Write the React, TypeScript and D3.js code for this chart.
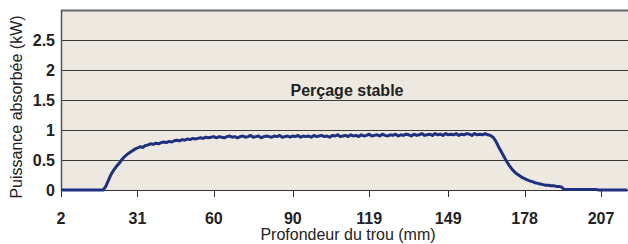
import React, { useEffect, useRef } from "react";
import * as d3 from "d3";

// x axis tick labels (mm) and y axis ticks (kW)
const xTicks = [2, 31, 60, 90, 119, 149, 178, 207];
const yTicks = [0, 0.5, 1, 1.5, 2, 2.5];

// measured power, one sample per mm starting at 2 mm
const depthStart = 2;
const power = [
  0, 0, 0, 0, 0, 0, 0, 0, 0, 0, 0, 0, 0, 0, 0, 0,
  0.0, 0.06, 0.16, 0.26, 0.33, 0.39, 0.44, 0.5, 0.55, 0.59, 0.62, 0.65, 0.68,
  0.7, 0.72, 0.71, 0.74, 0.75, 0.77, 0.76, 0.78, 0.77, 0.79,
  0.8, 0.79, 0.81, 0.8, 0.82, 0.83, 0.82, 0.84, 0.83, 0.85,
  0.84, 0.86, 0.85, 0.86, 0.87, 0.86, 0.88, 0.87, 0.88, 0.89,
  0.87, 0.89, 0.88, 0.87, 0.89, 0.9, 0.88, 0.89, 0.87, 0.89,
  0.9, 0.88, 0.89, 0.91, 0.88, 0.89, 0.9, 0.87, 0.89, 0.9,
  0.89, 0.88, 0.9, 0.89, 0.91, 0.88, 0.89, 0.9, 0.88, 0.9,
  0.89, 0.91, 0.88, 0.9, 0.89, 0.9, 0.88, 0.91, 0.89, 0.9,
  0.91, 0.89, 0.9, 0.88, 0.91, 0.9, 0.92, 0.89, 0.9, 0.91,
  0.89, 0.92, 0.9, 0.91, 0.89, 0.92, 0.9, 0.91, 0.93, 0.9,
  0.91, 0.92, 0.9, 0.93, 0.91, 0.9, 0.92, 0.91, 0.93, 0.9,
  0.92, 0.91, 0.93, 0.92, 0.9, 0.93, 0.91, 0.92, 0.94, 0.91,
  0.92, 0.93, 0.91, 0.94, 0.92, 0.93, 0.91, 0.94, 0.92, 0.93,
  0.92, 0.94, 0.91, 0.93, 0.92, 0.94, 0.93, 0.91, 0.94, 0.92,
  0.93, 0.92, 0.94, 0.92, 0.91, 0.88,
  0.82, 0.73, 0.65, 0.57, 0.49, 0.42, 0.36, 0.31, 0.27, 0.24, 0.21, 0.19, 0.17, 0.15,
  0.14, 0.12, 0.11, 0.1, 0.09, 0.08, 0.08, 0.07, 0.07, 0.06, 0.06, 0.05,
  0.01, 0.01, 0.01, 0.01, 0.01, 0.01, 0.01, 0.01, 0.01, 0.01, 0.01, 0.01, 0.01,
  0, 0, 0, 0, 0, 0, 0, 0, 0, 0, 0, 0,
];

const title = "Perçage stable";
const xTitle = "Profondeur du trou (mm)";
const yTitle = "Puissance absorbée (kW)";

const App = () => {
  const svgRef = useRef<SVGSVGElement>(null);

  useEffect(() => {
    const width = 628;
    const height = 244;
    const left = 61;
    const top = 10;
    const bottom = 190;
    const right = 628;
    const font = "Liberation Sans, Arial, sans-serif";

    const x = d3.scaleLinear().domain([2, 207]).range([left, 601]);
    const y = d3.scaleLinear().domain([0, 3]).range([bottom, top]);

    const svg = d3
      .select(svgRef.current)
      .attr("width", width)
      .attr("height", height)
      .style("font-family", font);
    svg.selectAll("*").remove();

    svg
      .append("rect")
      .attr("x", left)
      .attr("y", top)
      .attr("width", right - left)
      .attr("height", bottom - top)
      .attr("fill", "#ede9e0");

    // gridlines
    svg
      .append("g")
      .selectAll("line")
      .data(yTicks.filter((d) => d > 0))
      .join("line")
      .attr("x1", left)
      .attr("x2", right)
      .attr("y1", (d) => Math.round(y(d)) + 0.5)
      .attr("y2", (d) => Math.round(y(d)) + 0.5)
      .attr("stroke", "#3a3a3a")
      .attr("stroke-width", 1);

    // frame
    svg
      .append("line")
      .attr("x1", left)
      .attr("x2", right)
      .attr("y1", top + 0.5)
      .attr("y2", top + 0.5)
      .attr("stroke", "#6a6a6a")
      .attr("stroke-width", 2);
    svg
      .append("line")
      .attr("x1", left + 0.5)
      .attr("x2", left + 0.5)
      .attr("y1", top)
      .attr("y2", bottom)
      .attr("stroke", "#555")
      .attr("stroke-width", 1.5);
    svg
      .append("line")
      .attr("x1", left)
      .attr("x2", right)
      .attr("y1", bottom + 0.5)
      .attr("y2", bottom + 0.5)
      .attr("stroke", "#333");

    // x ticks
    const xt = svg.append("g").selectAll("g").data(xTicks).join("g");
    xt.append("line")
      .attr("x1", (d) => Math.round(x(d)) + 0.5)
      .attr("x2", (d) => Math.round(x(d)) + 0.5)
      .attr("y1", bottom)
      .attr("y2", bottom + 7)
      .attr("stroke", "#333");
    xt.append("text")
      .attr("x", (d) => x(d))
      .attr("y", 224)
      .attr("text-anchor", "middle")
      .style("font-size", "16px")
      .style("font-weight", "bold")
      .attr("fill", "#222")
      .text((d) => d);

    // y tick labels
    svg
      .append("g")
      .selectAll("text")
      .data(yTicks)
      .join("text")
      .attr("x", 55)
      .attr("y", (d) => y(d))
      .attr("dy", "0.36em")
      .attr("text-anchor", "end")
      .style("font-size", "16px")
      .style("font-weight", "bold")
      .attr("fill", "#222")
      .text((d) => d);

    // series
    const line = d3
      .line<number>()
      .x((d, i) => x(depthStart + i))
      .y((d) => y(d));
    svg
      .append("path")
      .datum(power)
      .attr("d", line)
      .attr("fill", "none")
      .attr("stroke", "#1f307f")
      .attr("stroke-width", 3)
      .attr("stroke-linejoin", "round");

    svg
      .append("text")
      .attr("x", 347)
      .attr("y", 96)
      .attr("text-anchor", "middle")
      .style("font-size", "16px")
      .style("font-weight", "bold")
      .attr("fill", "#222")
      .text(title);

    svg
      .append("text")
      .attr("x", 348)
      .attr("y", 240)
      .attr("text-anchor", "middle")
      .style("font-size", "16px")
      .attr("fill", "#222")
      .text(xTitle);

    svg
      .append("text")
      .attr("transform", "translate(22,107) rotate(-90)")
      .attr("text-anchor", "middle")
      .style("font-size", "16px")
      .attr("fill", "#222")
      .text(yTitle);
  }, []);

  return (
    <svg
      ref={svgRef}
      style={{ position: "absolute", left: 0, top: 0 }}
    ></svg>
  );
};

export default App;
